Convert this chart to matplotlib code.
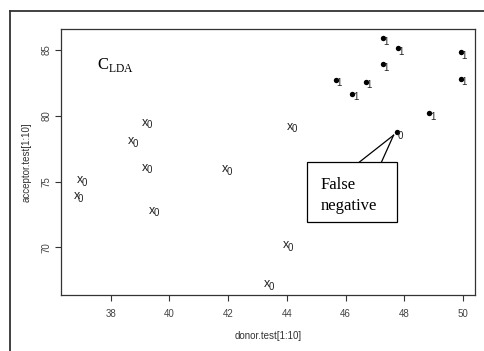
import matplotlib
matplotlib.use("Agg")
import matplotlib.pyplot as plt
from matplotlib.lines import Line2D
from matplotlib.patches import Rectangle

# -----------------------------
# Data
# -----------------------------
neg_x = [36.96, 36.84, 38.69, 39.16, 39.16, 39.42, 41.90, 44.10, 43.96, 43.31]
neg_y = [75.12, 73.90, 78.06, 79.48, 76.06, 72.79, 75.96, 79.17, 70.18, 67.22]
neg_pred = ["0"] * 10

pos_x = [47.26, 47.77, 47.26, 49.92, 49.92, 45.66, 46.68, 46.23, 48.84, 47.73]
pos_y = [85.89, 85.13, 83.91, 84.82, 82.82, 82.72, 82.59, 81.66, 80.19, 78.75]
pos_pred = ["1", "1", "1", "1", "1", "1", "1", "1", "1", "0"]

x_ticks = [38, 40, 42, 44, 46, 48, 50]
y_ticks = [70, 75, 80, 85]

SANS = "Liberation Sans"
SERIF = "Liberation Serif"
DARK = "#333333"

plt.rcParams["mathtext.fontset"] = "custom"
plt.rcParams["mathtext.rm"] = SERIF

fig = plt.figure(figsize=(4.85, 3.51), dpi=100)
ax = fig.add_axes([0.1258, 0.1595, 0.8536, 0.7579])

# outer frame of the original page (only left and top visible)
fig.add_artist(Line2D([10.5 / 485, 10.5 / 485], [0, 1 - 11 / 351],
                      transform=fig.transFigure, color=DARK, lw=1.3))
fig.add_artist(Line2D([10.5 / 485, 1], [1 - 11 / 351, 1 - 11 / 351],
                      transform=fig.transFigure, color=DARK, lw=1.3))

# class 0: "x" glyph with predicted label
for x, y, lab in zip(neg_x, neg_y, neg_pred):
    ax.annotate("x", (x, y), xytext=(0, -2.3), textcoords="offset points",
                ha="center", va="baseline", fontsize=9, family=SANS, color="#222222")
    ax.annotate(lab, (x, y), xytext=(3.0, -2.0), textcoords="offset points",
                ha="center", va="center", fontsize=7, family=SANS, color="#222222")

# class 1: filled dots with predicted label
ax.scatter(pos_x, pos_y, marker="o", s=15, color="black", lw=0, zorder=3)
for x, y, lab in zip(pos_x, pos_y, pos_pred):
    ax.annotate(lab, (x, y), xytext=(2.4, -2.4), textcoords="offset points",
                ha="center", va="center", fontsize=7, family=SANS, color="#222222")

ax.set_xlim(36.31, 50.40)
ax.set_ylim(66.37, 86.6)
ax.set_xticks(x_ticks)
ax.set_yticks(y_ticks)
ax.tick_params(direction="out", length=4, width=0.8, color=DARK,
               labelsize=7, labelcolor="#444444")
ax.tick_params(axis="x", pad=6)
ax.tick_params(axis="y", pad=3)
for lab in ax.get_xticklabels() + ax.get_yticklabels():
    lab.set_family(SANS)
for lab in ax.get_yticklabels():
    lab.set_rotation(90)
    lab.set_va("center")
for sp in ax.spines.values():
    sp.set_color(DARK)
    sp.set_linewidth(0.9)

ax.set_xlabel("donor.test[1:10]", fontsize=7, family=SANS, color="#333333", labelpad=9)
ax.set_ylabel("acceptor.test[1:10]", fontsize=7, family=SANS, color="#333333", labelpad=7)

fig.text(97 / 485, 1 - 68.5 / 351, r"$\mathrm{C}_{\mathrm{LDA}}$", fontsize=12,
         va="baseline", ha="left")

# callout box pointing at the false negative
fn_x, fn_y = pos_x[-1], pos_y[-1]
disp = ax.transData.transform((fn_x, fn_y))
tip = (disp[0] - 3, disp[1] - 3)
box_l, box_r, box_t, box_b = 307, 397, 351 - 162, 351 - 222
fig.add_artist(Rectangle((box_l / 485, box_b / 351), (box_r - box_l) / 485,
                         (box_t - box_b) / 351, transform=fig.transFigure,
                         fill=False, ec="black", lw=0.9))
for bx in (359.5, 381.5):
    fig.add_artist(Line2D([bx / 485, tip[0] / 485], [box_t / 351, tip[1] / 351],
                          transform=fig.transFigure, color="black", lw=0.9))
fig.text(321 / 485, 1 - 189 / 351, "False", family=SERIF, fontsize=12,
         va="baseline", ha="left")
fig.text(321 / 485, 1 - 210 / 351, "negative", family=SERIF, fontsize=12,
         va="baseline", ha="left")

fig.savefig("out.png", dpi=100)
